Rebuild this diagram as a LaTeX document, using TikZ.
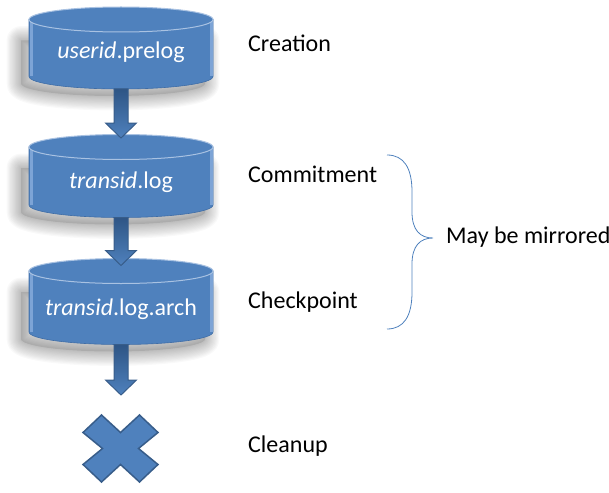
\documentclass[tikz,border=0pt]{standalone}
\usepackage{fontspec}
\setmainfont{Carlito}
\usetikzlibrary{calc,positioning}

\definecolor{drumblue}{HTML}{4F81BD}
\definecolor{drumedge}{HTML}{3F6DA6}
\definecolor{drumrim}{HTML}{A9C2E2}
\definecolor{drumside}{HTML}{7DA4D6}
\definecolor{arrowdark}{HTML}{2E5585}
\definecolor{arrowedge}{HTML}{385D8A}

\begin{document}
\begin{tikzpicture}[
  x=1pt, y=-1pt,
  font=\fontsize{24}{28}\selectfont,
  drum/.style={fill=drumblue},
  drumtop/.style={fill=drumblue, draw=drumrim, line width=1pt},
  dbname/.style={anchor=base, inner sep=0pt, text=white},
  stage/.style={anchor=base west, inner sep=0pt},
  flow/.style={shade, top color=arrowdark, middle color=drumblue, bottom color=drumblue, draw=arrowedge, line width=1pt, line join=miter},
  xmark/.style={fill=drumblue, draw=arrowedge, line width=1.5pt, line join=miter},
  curly/.style={draw=drumblue, line width=0.8pt}
]
\useasboundingbox (0,0) rectangle (609,492);

% the three log files
\foreach \n/\yt/\yb/\d in {prelog/19.5/76.5/0, log/147/205/3.5, arch/271/332/7}{
  \foreach \s in {1,...,12}
    \draw[black, opacity=0.022, line width=\s*2.4pt, line join=round, shift={(-8,7)}]
      (29,\yt+14) -- (29,\yb) arc[start angle=180, end angle=360, x radius=92pt, y radius=12.5pt] -- (213,\yt+14) -- cycle;
  \fill[black, opacity=0.1, shift={(-8,7)}]
    (29,\yt+14) -- (29,\yb) arc[start angle=180, end angle=360, x radius=92pt, y radius=12.5pt] -- (213,\yt+14) -- cycle;
  \filldraw[drum, draw=drumedge, line width=0.6pt]
    (29,\yt) -- (29,\yb) arc[start angle=180, end angle=360, x radius=92pt, y radius=12.5pt] -- (213,\yt) -- cycle;
  \fill[drumside] (29.5,\yt) rectangle (32.5,\yb);
  \fill[drumside] (209.5,\yt) rectangle (212.5,\yb);
  \filldraw[drumtop] (121,\yt) ellipse[x radius=92pt, y radius=12.5pt];
  \coordinate (\n-bot) at (121,\yb+12.5);
  \coordinate (\n-in) at (121,\yt-12.5+\d);
}

\node[dbname] (prelog) at (121,59) {\textit{userid}.prelog};
\node[dbname] (log) at (121,188) {\textit{transid}.log};
\node[dbname] (arch) at (121,315) {\textit{transid}.log.arch};

\coordinate (stop) at (121,395);

% block arrows
\foreach \a/\b in {prelog-bot/log-in, log-bot/arch-in, arch-bot/stop}
  \draw[flow] let \p1=(\a), \p2=(\b) in
    (\x1-7pt,\y1) -- (\x1-7pt,\y2+15pt) -- (\x1-15.5pt,\y2+15pt) -- (\x2,\y2)
    -- (\x1+15.5pt,\y2+15pt) -- (\x1+7pt,\y2+15pt) -- (\x1+7pt,\y1) -- cycle;

% cleanup mark
\coordinate (gone) at (120.5,448.5);
\draw[xmark, shift={(gone)}] (-37.5,-16) -- (-19,-33.5) -- (0,-16) -- (19,-33.5) -- (37.5,-16)
  -- (18,0) -- (37.5,16) -- (19,33.5) -- (0,16) -- (-19,33.5) -- (-37.5,16) -- (-18,0) -- cycle;

\node[stage] (creation) at (248,52) {Creation};
\node[stage] (commit) at (248,182) {Commitment};
\node[stage] (checkpoint) at (248,308) {Checkpoint};
\node[stage] (cleanup) at (248,452.5) {Cleanup};

\coordinate (brace-top) at (387,155);
\coordinate (brace-tip) at (433,238);
\coordinate (brace-bot) at (387,329);
\node[stage] (mirror) at (446,243) {May be mirrored};

\draw[curly] (brace-top) .. controls (404,155) and (412,168) .. (412,192) -- (412,212)
  .. controls (412,230) and (420,238) .. (brace-tip)
  .. controls (420,238) and (412,246) .. (412,264) -- (412,292)
  .. controls (412,316) and (404,329) .. (brace-bot);
\end{tikzpicture}
\end{document}
